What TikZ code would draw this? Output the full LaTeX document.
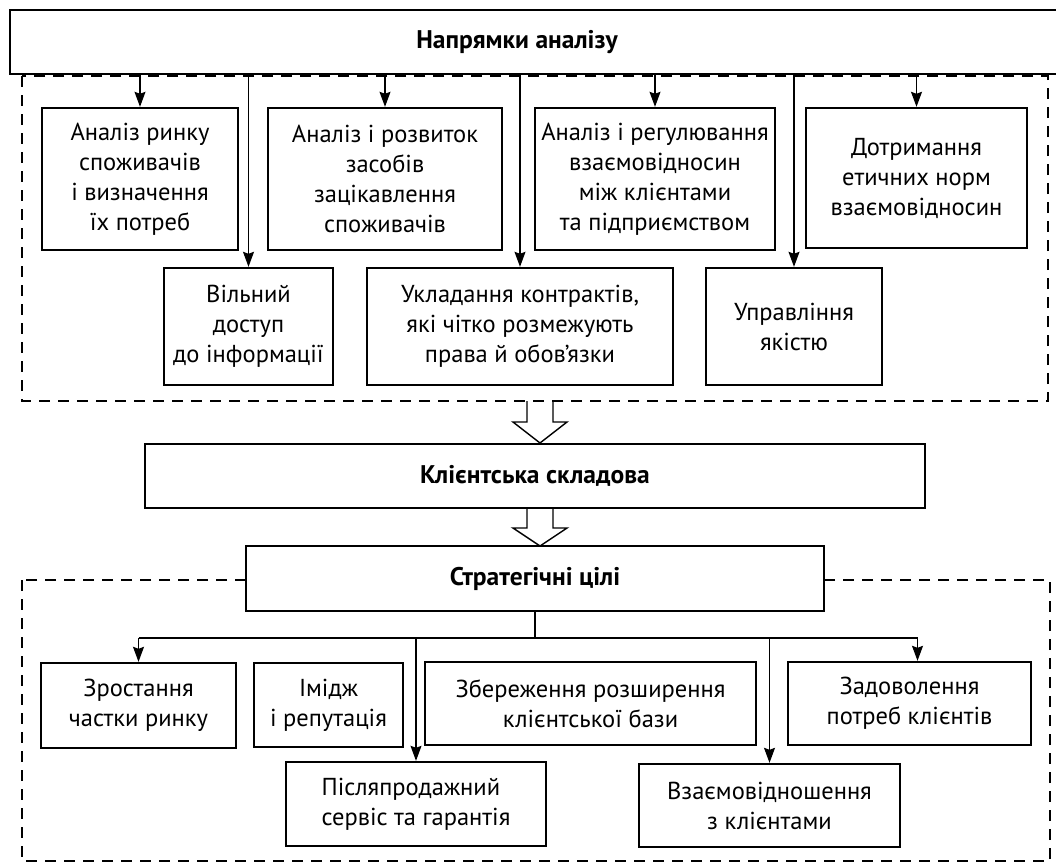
\documentclass[tikz,border=0pt]{standalone}
\usepackage{fontspec}
\setmainfont{PT Sans}
\usetikzlibrary{arrows.meta}

\tikzset{
  box/.style={draw, line width=2.4pt, align=center, inner sep=0pt, font=\fontsize{24.5}{30}\selectfont},
  headbox/.style={box, font=\fontsize{25.5}{30}\selectfont\bfseries},
  boxsize/.style 2 args={minimum width=#1pt, minimum height=#2pt},
  link/.style={line width=1.1pt},
  arr/.style={link, -{Stealth[length=15pt,width=11pt,inset=2pt]}},
  region/.style={line width=1.6pt, dash pattern=on 11pt off 8pt},
  hollow/.style={line width=1.4pt, line join=miter}
}

\begin{document}
\begin{tikzpicture}[x=1pt,y=-1pt]
  \useasboundingbox (0,0) rectangle (1056,863);
  % dashed areas
  \draw[region] (22,76) rectangle (1048,401);
  \draw[region] (22,580) rectangle (1050,861);

  % directions
  \node[box, boxsize={1060}{64}] (top) at (540,42) {};
  \node[font=\fontsize{25.5}{30}\selectfont\bfseries] (dir) at (517,42) {Напрямки аналізу};

  \node[box, boxsize={196}{142}] (a1) at (140,179) {Аналіз ринку\\споживачів\\і визначення\\їх потреб};
  \node[box, boxsize={234}{142}] (a2) at (385,179) {Аналіз і розвиток\\засобів\\зацікавлення\\споживачів};
  \node[box, boxsize={240}{142}] (a3) at (655,179) {Аналіз і регулювання\\взаємовідносин\\між клієнтами\\та підприємством};
  \node[box, boxsize={221}{140}] (a4) at (916.5,178) {Дотримання\\етичних норм\\взаємовідносин};

  \node[box, boxsize={169}{117}] (b1) at (248.5,326.5) {Вільний\\доступ\\до інформації};
  \node[box, boxsize={306}{117}] (b2) at (520,326.5) {Укладання контрактів,\\які чітко розмежують\\права й обов’язки};
  \node[box, boxsize={176}{117}] (b3) at (794,326.5) {Управління\\якістю};

  \foreach \n in {a1,a2,a3,a4,b1,b2,b3}
    \draw[arr] (top.south -| \n.north) -- (\n.north);

  % client component
  \draw[hollow] (527,401) -- (527,422) -- (513,422) -- (540,443) -- (567,422) -- (553,422) -- (553,401);
  \node[headbox, boxsize={780}{64}] (client) at (535,476) {Клієнтська складова};
  \draw[hollow] (527,508) -- (527,528) -- (513,528) -- (540,546) -- (567,528) -- (553,528) -- (553,508);
  \node[headbox, fill=white, boxsize={578}{65}] (goals) at (535,578.5) {Стратегічні цілі};

  % goals
  \node[box, boxsize={195}{85}] (c1) at (138.5,705.5) {Зростання\\частки ринку};
  \node[box, boxsize={149}{84}] (c2) at (328.5,705) {Імідж\\і репутація};
  \node[box, boxsize={331}{83}] (c3) at (590.5,703.5) {Збереження розширення\\клієнтської бази};
  \node[box, boxsize={243}{83}] (c4) at (909.5,703.5) {Задоволення\\потреб клієнтів};
  \node[box, align=left, boxsize={260}{84}] (d1) at (416,804) {Післяпродажний\\сервіс та гарантія};
  \node[box, boxsize={261}{83}] (d2) at (769.5,805.5) {Взаємовідношення\\з клієнтами};

  \coordinate (fork) at (535,638);
  \coordinate (c4in) at ([xshift=8pt]c4.north);
  \draw[link] (goals.south) -- (fork);
  \draw[link] (fork -| c1.north) -- (fork -| c4in);
  \foreach \n in {c1.north,d1.north,d2.north,c4in}
    \draw[arr] (fork -| \n) -- (\n);
\end{tikzpicture}
\end{document}
